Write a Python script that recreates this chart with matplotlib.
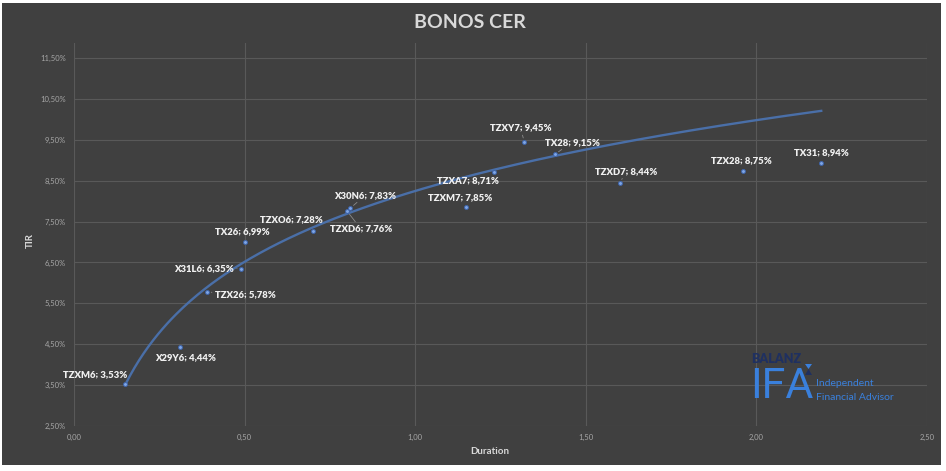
import numpy as np
import matplotlib
matplotlib.use("Agg")
import matplotlib.pyplot as plt
from matplotlib.patches import Rectangle, Polygon
from matplotlib.ticker import FuncFormatter

plt.rcParams['font.family'] = ['Lato', 'DejaVu Sans']

# ---- data ----
bonds = ["TZXM6", "X29Y6", "TZX26", "X31L6", "TX26", "TZXO6", "TZXD6", "X30N6",
         "TZXM7", "TZXA7", "TZXY7", "TX28", "TZXD7", "TZX28", "TX31"]
duration = [0.15, 0.31, 0.39, 0.49, 0.50, 0.70, 0.80, 0.81,
            1.15, 1.23, 1.32, 1.41, 1.60, 1.96, 2.19]
tir = [3.53, 4.44, 5.78, 6.35, 6.99, 7.28, 7.76, 7.83,
       7.85, 8.71, 9.45, 9.15, 8.44, 8.75, 8.94]
y_ticks = [2.5, 3.5, 4.5, 5.5, 6.5, 7.5, 8.5, 9.5, 10.5, 11.5]
x_ticks = [0.0, 0.5, 1.0, 1.5, 2.0, 2.5]
# logarithmic trendline coefficients: y = a + b*ln(x)
trend_a = 8.25
trend_b = 2.50

# label offsets in pixels (dx, dy) and whether a leader line is drawn
label_off = {
    "TZXM6": (-30, 9, False), "X29Y6": (6, -11, False), "TZX26": (38, -3, True),
    "X31L6": (-37, 0, True), "TX26": (-2, 11, False), "TZXO6": (-21, 11, False),
    "TZXD6": (14, -18, True), "X30N6": (15, 13, True), "TZXM7": (-6, 10, False),
    "TZXA7": (-26, -8, False), "TZXY7": (-4, 14, True), "TX28": (17, 12, True),
    "TZXD7": (6, 12, True), "TZX28": (-1, 10, False), "TX31": (0, 10, False),
}

BG = "#404040"
GRID = "#595959"
TICK = "#a6a6a6"
LABEL = "#f0f0f0"
TREND = "#4a6fa8"

fig = plt.figure(figsize=(9.46, 4.71), dpi=100, facecolor="white")
W, H = 946, 471
fig.patches.append(Rectangle((2 / W, 1 - 465 / H), (941 - 2) / W, (465 - 3) / H,
                             transform=fig.transFigure, facecolor=BG,
                             edgecolor="none", zorder=-10))

ax = fig.add_axes([74 / W, 1 - 426 / H, (927 - 74) / W, (426 - 43) / H])
ax.set_facecolor(BG)
for s in ax.spines.values():
    s.set_visible(False)
ax.set_xlim(0, 2.5)
ax.set_ylim(2.5, 11.87)
ax.set_xticks(x_ticks)
ax.set_yticks(y_ticks)
ax.grid(True, color=GRID, linewidth=0.8)
ax.set_axisbelow(True)
ax.tick_params(length=0, colors=TICK, labelsize=5.5, pad=6)
ax.xaxis.set_major_formatter(FuncFormatter(lambda v, p: f"{v:.2f}".replace(".", ",")))
ax.yaxis.set_major_formatter(FuncFormatter(lambda v, p: f"{v:.2f}%".replace(".", ",")))

# logarithmic trendline spanning the data range
xs = np.linspace(min(duration), max(duration), 300)
ax.plot(xs, trend_a + trend_b * np.log(xs), color=TREND, linewidth=1.7, zorder=2)

ax.scatter(duration, tir, s=8, color="#7fa6e6", edgecolors="#3d63a8",
           linewidths=0.7, zorder=3)

for name, x, y in zip(bonds, duration, tir):
    dx, dy, lead = label_off[name]
    txt = f"{name}; {y:.2f}%".replace(".", ",")
    ax.annotate(txt, (x, y), xytext=(dx, dy), textcoords="offset pixels",
                ha="center", va="center", fontsize=6.8, fontweight="heavy",
                color=LABEL, zorder=4,
                arrowprops=dict(arrowstyle="-", color="#8c8c8c", lw=0.6,
                                shrinkA=0, shrinkB=3) if lead else None)

fig.text(470 / W, 1 - 22 / H, "BONOS CER", ha="center", va="center",
         fontsize=14, fontweight="bold", color="#d9d9d9")
fig.text(30 / W, 1 - 240 / H, "TIR", ha="center", va="center", rotation=90,
         fontsize=7, fontweight="bold", color="#d9d9d9")
fig.text(490 / W, 1 - 452 / H, "Duration", ha="center", va="center",
         fontsize=7, fontweight="bold", color="#d9d9d9")

# logo
BLUE = "#3a80dc"
NAVY = "#1f3060"
fig.text(751 / W, 1 - 359 / H, "BALANZ", ha="left", va="center",
         fontsize=9, fontweight="heavy", color=NAVY)
fig.text(750 / W, 1 - 387 / H, "IFA", ha="left", va="center",
         fontsize=31, fontweight="normal", color=BLUE,
         family=["Roboto", "Lato", "DejaVu Sans"])
fig.text(816 / W, 1 - 383 / H, "Independent", ha="left", va="center",
         fontsize=7.5, color=BLUE)
fig.text(816 / W, 1 - 397 / H, "Financial Advisor", ha="left", va="center",
         fontsize=7.5, color=BLUE)
fig.patches.append(Polygon([(805 / W, 1 - 364 / H), (812 / W, 1 - 364 / H),
                            (808.5 / W, 1 - 369 / H)],
                           closed=True, transform=fig.transFigure,
                           facecolor=BLUE, edgecolor="none"))
fig.patches.append(Polygon([(808.5 / W, 1 - 369 / H), (812 / W, 1 - 375 / H),
                            (805 / W, 1 - 375 / H)],
                           closed=True, transform=fig.transFigure,
                           facecolor=NAVY, edgecolor="none"))

fig.savefig("out.png", dpi=100, facecolor="white")
